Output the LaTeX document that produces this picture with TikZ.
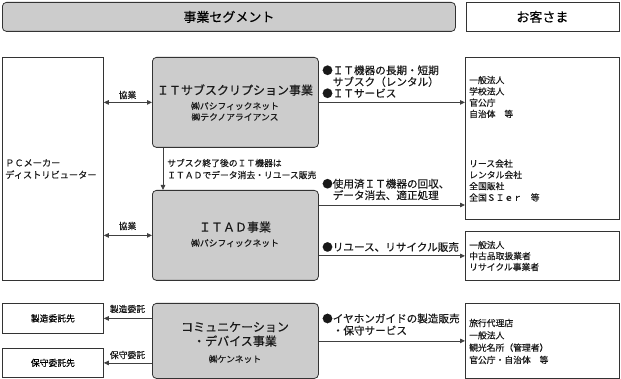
\documentclass[tikz,border=0pt]{standalone}
\usepackage{fontspec}
\setmainfont[FakeBold=0.35]{Noto Sans CJK JP}
\usetikzlibrary{arrows.meta}
\newcommand\fTop{\fontsize{13}{15}\selectfont}
\newcommand\fTtl{\fontsize{12}{14}\selectfont}
\newcommand\fBul{\fontsize{10.6}{11.5}\selectfont}
\newcommand\fSm{\fontsize{8.8}{11.3}\selectfont}
\begin{document}
\begin{tikzpicture}[x=1pt,y=-1pt,
  >={Triangle[length=5pt,width=4.5pt]},
  box/.style={draw=black!80, line width=0.8pt, inner sep=0pt, anchor=north west},
  gbox/.style={box, fill=black!20, rounded corners=4pt},
  conn/.style={draw=black!75, line width=0.8pt},
  txt/.style={inner sep=0pt, text=black!90},
  blk/.style={txt, anchor=west, align=left},
]
\useasboundingbox (0,0) rectangle (621,379);

% header boxes
\node[gbox, minimum width=453pt, minimum height=29pt, font=\fTop] (seg) at (2,2) {事業セグメント};
\node[box, minimum width=153pt, minimum height=29pt, font=\fTop] (cust) at (465.5,2) {お客さま};

% left side
\node[box, minimum width=101pt, minimum height=223pt] (pc) at (2,57) {};
\node[box, minimum width=101pt, minimum height=30pt, font=\fSm] (mfg) at (2,303) {製造委託先};
\node[box, minimum width=101pt, minimum height=29pt, font=\fSm] (mnt) at (2,348) {保守委託先};

% segment boxes
\node[gbox, minimum width=166pt, minimum height=90pt] (itsub) at (152,57) {};
\node[gbox, minimum width=166pt, minimum height=90pt] (itad) at (152,190) {};
\node[gbox, minimum width=166pt, minimum height=75pt] (comm) at (152,303) {};

% customer boxes
\node[box, minimum width=153.5pt, minimum height=162pt] (cust1) at (465,57) {};
\node[box, minimum width=153.5pt, minimum height=49pt] (cust2) at (465,231) {};
\node[box, minimum width=153.5pt, minimum height=75pt] (cust3) at (465,303) {};

% texts in segment boxes
\node[txt, font=\fTtl] (t1) at (235,90) {ＩＴサブスクリプション事業};
\node[txt, font=\fSm] (t1a) at (235,106) {㈱パシフィックネット};
\node[txt, font=\fSm] (t1b) at (235,117) {㈱テクノアライアンス};
\node[txt, font=\fTtl] (t2) at (235,227) {ＩＴＡＤ事業};
\node[txt, font=\fSm] (t2a) at (235,243) {㈱パシフィックネット};
\node[txt, font=\fTtl] (t3) at (235,327) {コミュニケーション};
\node[txt, font=\fTtl] (t3b) at (235,341) {・デバイス事業};
\node[txt, font=\fSm] (t3a) at (235,359) {㈱ケンネット};

% PC maker text
\node[blk, font=\fontsize{9.2}{12}\selectfont] (pctxt) at (5,169) {ＰＣメーカー\\ディストリビューター};

% customer texts
\node[blk, font=\fSm] (c1a) at (469,97) {一般法人\\学校法人\\官公庁\\自治体　等};
\node[blk, font=\fSm] (c1b) at (469,180.5) {リース会社\\レンタル会社\\全国販社\\全国ＳＩｅｒ　等};
\node[blk, font=\fontsize{8.8}{11}\selectfont] (c2) at (469,256) {一般法人\\中古品取扱業者\\リサイクル事業者};
\node[blk, font=\fontsize{8.8}{12.3}\selectfont] (c3) at (469,341.5) {旅行代理店\\一般法人\\観光名所（管理者）\\官公庁・自治体　等};

% bullets
\node[blk, font=\fBul] (b1) at (322,81.7) {●ＩＴ機器の長期・短期\\　サブスク（レンタル）\\●ＩＴサービス};
\node[blk, font=\fBul] (b2) at (322,189.5) {●使用済ＩＴ機器の回収、\\　データ消去、適正処理};
\node[blk, font=\fBul] (b3) at (322,247) {●リユース、リサイクル販売};
\node[blk, font=\fontsize{10.6}{12}\selectfont] (b4) at (322,324.5) {●イヤホンガイドの製造販売\\　・保守サービス};

% connector labels
\node[txt, font=\fSm] (l1) at (127.5,95) {協業};
\node[txt, font=\fSm] (l2) at (127.5,226) {協業};
\node[txt, font=\fSm] (l3) at (127.5,309) {製造委託};
\node[txt, font=\fSm] (l4) at (127.5,355) {保守委託};
\node[blk, font=\fontsize{8.8}{12}\selectfont] (lv) at (167,169) {サブスク終了後のＩＴ機器は\\ＩＴＡＤでデータ消去・リユース販売};

% helper coordinates
\coordinate (yA) at (0,205);
\coordinate (xV) at (163,0);

% connectors
\draw[conn,<->] (pc.east |- itsub.west) -- (itsub.west);
\draw[conn,->] (itsub.east) -- (cust1.west |- itsub.east);
\draw[conn,->] (itsub.south -| xV) -- (itad.north -| xV);
\draw[conn,<->] (pc.east |- itad.west) -- (itad.west);
\draw[conn,->] (itad.east |- yA) -- (cust1.west |- yA);
\draw[conn,->] (itad.east |- cust2.west) -- (cust2.west);
\draw[conn,->] (comm.west |- mfg.east) -- (mfg.east);
\draw[conn,->] (comm.west |- mnt.east) -- (mnt.east);
\draw[conn,->] (comm.east) -- (cust3.west);
\end{tikzpicture}
\end{document}
